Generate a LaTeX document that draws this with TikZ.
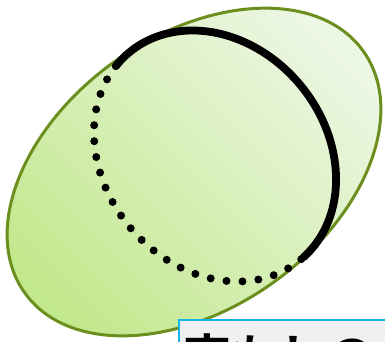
\documentclass[tikz,border=0pt]{standalone}
\usepackage{fontspec}
\newfontfamily\cjk{Noto Sans CJK JP}[BoldFont={Noto Sans CJK JP Bold}]
\usetikzlibrary{positioning,calc}
\definecolor{olive}{HTML}{6B8F1F}
\definecolor{leafdark}{HTML}{C2E88C}
\definecolor{leaflight}{HTML}{EDF7E6}
\definecolor{sky}{HTML}{12B5EA}
\definecolor{paper}{HTML}{F0F0F0}

\begin{document}
\begin{tikzpicture}[x=1pt,y=1pt,
  rim/.style={draw=olive,line width=3pt},
  front/.style={line width=7.8pt,line cap=round},
  back/.style={line width=8pt,line cap=round,dash pattern=on 0pt off 16pt},
  tag/.style={draw=sky,line width=1.8pt,fill=paper,anchor=north west,
    minimum width=240pt,text width=230pt,inner xsep=2pt,inner ysep=14pt,
    font=\cjk\bfseries\fontsize{48}{48}\selectfont}]
\useasboundingbox (0,0) rectangle (385,341);
\clip (0,0) rectangle (385,341);
% leaf-coloured outer ellipse
\shade[top color=leaflight,bottom color=leafdark,shading angle=-45]
  (194,169) ellipse[x radius=208,y radius=136,rotate=35.5];
\draw[rim] (194,169) ellipse[x radius=208,y radius=136,rotate=35.5];
% great circle seen slanted: front solid, back dotted
\begin{scope}[shift={(215,185)},rotate=39.5]
\draw[back] (100:111 and 134.5) arc[start angle=100,end angle=272,x radius=111,y radius=134.5];
\draw[front] (-88:111 and 134.5) arc[start angle=-88,end angle=100,x radius=111,y radius=134.5];
\end{scope}
\node[tag] (label) at (178,22) {京もしの};
\end{tikzpicture}
\end{document}
